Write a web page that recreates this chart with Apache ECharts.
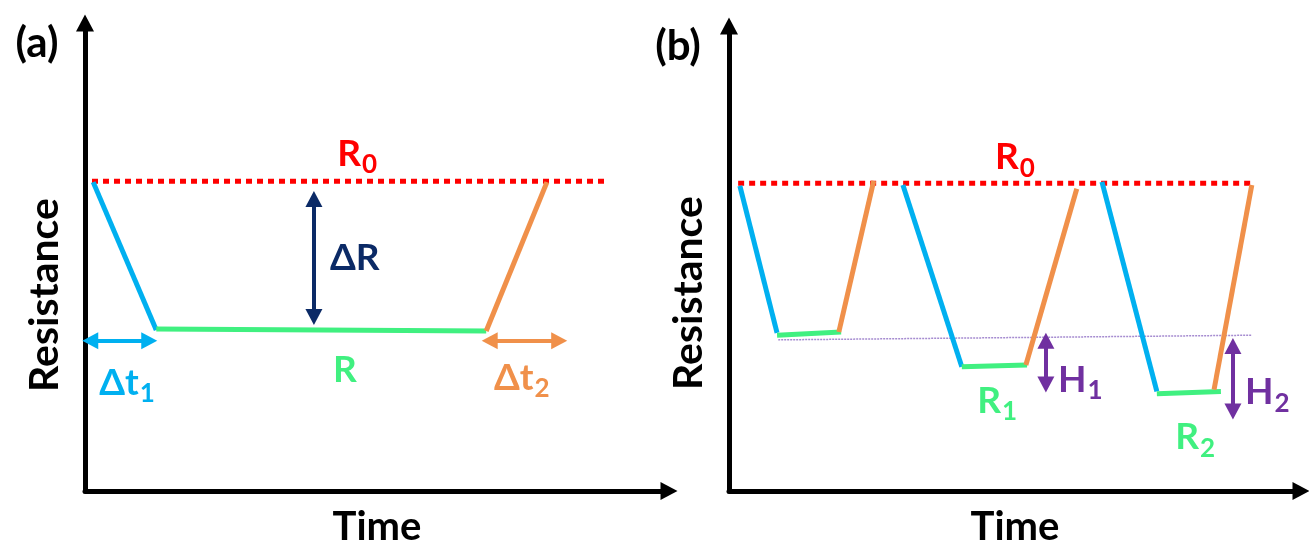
<!DOCTYPE html>
<html>
<head>
<meta charset="utf-8">
<script src="https://cdn.jsdelivr.net/npm/echarts@6/dist/echarts.min.js"></script>
<style>html,body{margin:0;padding:0;background:#fff;}#chart{width:1309px;height:552px;}</style>
</head>
<body>
<div id="chart"></div>
<script>
// ---------- data (arbitrary time / resistance units) ----------
// panel (a)
const r0LineA   = [[1.2, 66.2], [89.0, 66.2]];
const responseA = [[1.4, 66.0], [12.2, 34.4]];
const steadyA   = [[12.2, 34.6], [68.7, 34.2]];
const recoveryA = [[68.7, 34.2], [79.1, 66.0]];
const dt1ArrowA = [[0.9, 32.1], [11.0, 32.1]];
const dRArrowA  = [[39.2, 62.4], [39.2, 37.2]];
const dt2ArrowA = [[69.3, 32.1], [81.2, 32.1]];
const labelTextA = [['R', '0'], ['ΔR', ''], ['R', ''], ['Δt', '1'], ['Δt', '2']];
const labelAtA   = [[46.6, 72.0], [46.2, 49.7], [44.5, 25.9], [7.2, 23.1], [74.8, 24.2]];

// panel (b)
const r0LineB = [[1.6, 66.2], [91.4, 66.2]];
const responseB = [
  [[1.9, 65.6], [8.4, 34.0]],
  [[30.4, 65.8], [40.7, 26.7]],
  [[65.2, 66.5], [74.8, 21.4]]
];
const steadyB = [
  [[8.4, 33.5], [19.6, 34.2]],
  [[40.7, 26.7], [52.1, 27.1]],
  [[74.8, 20.9], [86.0, 21.4]]
];
const recoveryB = [
  [[19.2, 34.2], [25.3, 66.7]],
  [[51.9, 27.1], [60.8, 65.0]],
  [[84.8, 21.8], [91.4, 65.8]]
];
const baselineB = [[8.6, 32.5], [91.4, 33.5]];
const h1ArrowB  = [[55.4, 32.3], [55.4, 22.9]];
const h2ArrowB  = [[88.1, 31.2], [88.1, 17.1]];
const labelTextB = [['R', '0'], ['R', '1'], ['H', '1'], ['R', '2'], ['H', '2']];
const labelAtB   = [[50.0, 71.8], [46.9, 19.4], [61.4, 23.9], [81.5, 11.5], [94.1, 21.2]];

const panelNames = ['(a)', '(b)'];
const xName = 'Time';
const yName = 'Resistance';

// ---------- styles ----------
const FONT = 'Lato';
const C = {
  red: '#FF0000', blue: '#00B0F0', green: '#40F080', orange: '#F0904A',
  navy: '#0B2A66', purple: '#7030A0', faint: '#A58BD0', black: '#000'
};
const labelColorsA = [C.red, C.navy, C.green, C.blue, C.orange];
const labelColorsB = [C.red, C.green, C.purple, C.green, C.purple];

function seg(name, data, color, idx, extra) {
  return Object.assign({
    type: 'line', name: name, data: data,
    xAxisIndex: idx, yAxisIndex: idx,
    showSymbol: false, symbol: 'none', silent: true, animation: false,
    lineStyle: { color: color, width: 5, cap: 'butt' },
    z: 3
  }, extra || {});
}
function arrow(pts, color) {
  return {
    silent: true, animation: false,
    symbol: ['triangle', 'triangle'], symbolSize: [17, 16],
    label: { show: false },
    lineStyle: { color: color, width: 4, type: 'solid' },
    itemStyle: { color: color },
    emphasis: { disabled: true },
    data: [[{ coord: pts[0] }, { coord: pts[1] }]]
  };
}
function richStyle(color, size) {
  return { fontFamily: FONT, fontWeight: 'bold', fontSize: size, color: color,
    textBorderWidth: 0, textBorderColor: 'transparent', textShadowBlur: 0, opacity: 1 };
}
function labels(name, texts, at, colors, idx) {
  return {
    type: 'scatter', name: name, xAxisIndex: idx, yAxisIndex: idx,
    symbolSize: 0, silent: true, animation: false, z: 5,
    itemStyle: { opacity: 1 },
    data: texts.map((t, i) => ({
      value: at[i],
      label: {
        show: true, position: 'inside', opacity: 1,
        textBorderWidth: 0, textBorderColor: 'transparent',
        formatter: t[1] ? '{m|' + t[0] + '}{s|' + t[1] + '}' : '{m|' + t[0] + '}',
        rich: {
          m: richStyle(colors[i], 37),
          s: Object.assign(richStyle(colors[i], 26), { padding: [22, 0, 0, 1] })
        }
      }
    }))
  };
}
function axisX(idx) {
  return {
    type: 'value', gridIndex: idx, min: 0, max: 100,
    name: xName, nameLocation: 'middle', nameGap: 16,
    nameTextStyle: { fontFamily: FONT, fontWeight: 'bold', fontSize: 40, color: C.black },
    axisLine: { show: true, onZero: false, symbol: ['none', 'triangle'], symbolSize: [18, 17],
      lineStyle: { color: C.black, width: 5 } },
    axisTick: { show: false }, axisLabel: { show: false }, splitLine: { show: false }
  };
}
function axisY(idx) {
  return {
    type: 'value', gridIndex: idx, min: 0, max: 100,
    axisLine: { show: true, onZero: false, symbol: ['none', 'triangle'], symbolSize: [18, 17],
      lineStyle: { color: C.black, width: 5 } },
    axisTick: { show: false }, axisLabel: { show: false }, splitLine: { show: false }
  };
}

const series = [];
// panel (a)
series.push(seg('R0a', r0LineA, C.red, 0, { lineStyle: { color: C.red, width: 5, type: [6, 5], cap: 'butt' } }));
series.push(seg('responseA', responseA, C.blue, 0, { markLine: arrow(dt1ArrowA, C.blue) }));
series.push(seg('steadyA', steadyA, C.green, 0, { markLine: arrow(dRArrowA, C.navy) }));
series.push(seg('recoveryA', recoveryA, C.orange, 0, { markLine: arrow(dt2ArrowA, C.orange) }));
series.push(labels('labelsA', labelTextA, labelAtA, labelColorsA, 0));
// panel (b)
series.push(seg('R0b', r0LineB, C.red, 1, { lineStyle: { color: C.red, width: 5, type: [6, 5], cap: 'butt' } }));
series.push(seg('baselineB', baselineB, C.faint, 1, { z: 2, lineStyle: { color: C.faint, width: 1.5, type: [2, 1] },
  markLine: arrow(h1ArrowB, C.purple) }));
responseB.forEach((d, i) => series.push(seg('responseB' + i, d, C.blue, 1)));
steadyB.forEach((d, i) => series.push(seg('steadyB' + i, d, C.green, 1)));
recoveryB.forEach((d, i) => series.push(seg('recoveryB' + i, d, C.orange, 1,
  i === 2 ? { markLine: arrow(h2ArrowB, C.purple) } : {})));
series.push(labels('labelsB', labelTextB, labelAtB, labelColorsB, 1));

const chart = echarts.init(document.getElementById('chart'), null, { renderer: 'canvas' });
chart.setOption({
  backgroundColor: '#fff',
  animation: false,
  grid: [
    { left: 85, top: 23, width: 584, height: 471 },
    { left: 729, top: 26, width: 572, height: 468 }
  ],
  xAxis: [axisX(0), axisX(1)],
  yAxis: [axisY(0), axisY(1)],
  graphic: [
    { type: 'text', x: 37, y: 43, style: { text: panelNames[0], font: 'bold 42px ' + FONT, fill: C.black, align: 'center', verticalAlign: 'middle' } },
    { type: 'text', x: 678, y: 46, style: { text: panelNames[1], font: 'bold 42px ' + FONT, fill: C.black, align: 'center', verticalAlign: 'middle' } },
    { type: 'text', x: 45, y: 295, rotation: Math.PI / 2, style: { text: yName, font: 'bold 41px ' + FONT, fill: C.black, align: 'center', verticalAlign: 'middle' } },
    { type: 'text', x: 689, y: 293, rotation: Math.PI / 2, style: { text: yName, font: 'bold 41px ' + FONT, fill: C.black, align: 'center', verticalAlign: 'middle' } }
  ],
  series: series
});
</script>
</body>
</html>
